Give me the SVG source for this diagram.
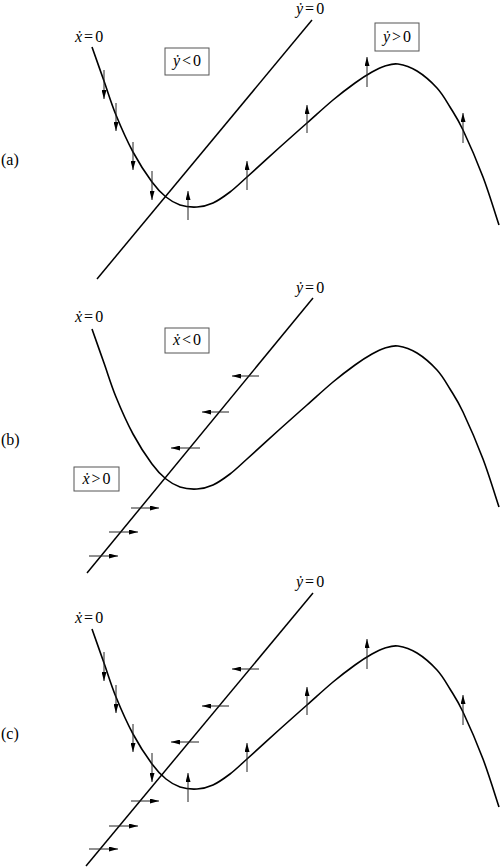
<svg xmlns="http://www.w3.org/2000/svg" xmlns:xlink="http://www.w3.org/1999/xlink" width="500" height="868" viewBox="0 0 500 868">
<style>
  .c { fill: none; stroke: #000; stroke-width: 1.6; }
  .n { fill: none; stroke: #000; stroke-width: 1.5; }
  .a { fill: none; stroke: #222; stroke-width: 1; marker-end: url(#ah); }
  .box { fill: #fff; stroke: #555; stroke-width: 1; }
  .t { font-family: "Liberation Serif", "Times New Roman", "DejaVu Serif", serif; font-size: 16px; fill: #000; }
  .i { font-style: italic; }
  .m { text-anchor: middle; }
</style>
<defs>
  <marker id="ah" markerUnits="userSpaceOnUse" viewBox="0 0 9 5" refX="9" refY="2.5" markerWidth="9" markerHeight="5" orient="auto">
    <path d="M0,0L9,2.5L0,5z" fill="#000"/>
  </marker>
  <path id="xnull" class="c" d="M92,47 C94,52.7 100,69.7 104,81 S111.2,103.2 116,115 S127,140.8 133,152 S146.5,174.5 152,182 S161.3,193.2 166,197 S174.8,203.3 180,205 S191.5,207.3 197,207 S207.5,205.5 213,203 S224.3,196.3 230,192 S238.7,184.5 247,177 S270,156 280,147 S298.2,130.8 307,123 S325,106.7 333,100 S348.5,87.7 355,83 S367,74.8 372,72 S380.7,67.3 385,66 S392.7,63.2 398,64 S410.5,67 417,71 S431.5,82 437,88 S445.7,100 450,107 S457.5,118.3 463,130 S477,161.2 483,177 S496.3,217 499,225"/>
  <g id="varrows">
    <line class="a" x1="104" y1="70" x2="104" y2="99"/>
    <line class="a" x1="116" y1="103" x2="116" y2="131"/>
    <line class="a" x1="133" y1="142" x2="133" y2="170"/>
    <line class="a" x1="152" y1="171" x2="152" y2="200"/>
    <line class="a" x1="188" y1="220" x2="188" y2="191"/>
    <line class="a" x1="247" y1="190" x2="247" y2="161"/>
    <line class="a" x1="307" y1="133" x2="307" y2="105"/>
    <line class="a" x1="367" y1="87" x2="367" y2="57"/>
    <line class="a" x1="463" y1="143" x2="463" y2="113"/>
  </g>
</defs>

<!-- Panel (a) -->
<g id="panel-a">
  <text class="t" font-family="Liberation Serif, serif" x="1" y="165">(a)</text>
  <use xlink:href="#xnull" href="#xnull"/>
  <line id="ynull-a" class="n" x1="97" y1="279" x2="312" y2="20"/>
  <g id="arrows-a"><use xlink:href="#varrows" href="#varrows"/></g>
  <text id="lbl-xdot-a" class="t" font-family="Liberation Serif, serif" x="75" y="42"><tspan class="i">ẋ</tspan><tspan dx="2">=</tspan><tspan dx="2">0</tspan></text>
  <text id="lbl-ydot-a" class="t" font-family="Liberation Serif, serif" font-size="15" x="296" y="14"><tspan class="i">ẏ</tspan><tspan dx="2">=</tspan><tspan dx="2">0</tspan></text>
  <g id="box-yneg">
    <rect class="box" x="165" y="48" width="44" height="27"/>
    <text class="t m" font-family="Liberation Serif, serif" x="187" y="66"><tspan class="i">ẏ</tspan><tspan dx="2">&lt;</tspan><tspan dx="2">0</tspan></text>
  </g>
  <g id="box-ypos">
    <rect class="box" x="375" y="23" width="44" height="28"/>
    <text class="t m" font-family="Liberation Serif, serif" x="397" y="42"><tspan class="i">ẏ</tspan><tspan dx="2">&gt;</tspan><tspan dx="2">0</tspan></text>
  </g>
</g>

<!-- Panel (b) -->
<g id="panel-b">
  <text class="t" font-family="Liberation Serif, serif" x="1" y="445">(b)</text>
  <use xlink:href="#xnull" href="#xnull" transform="translate(0,282)"/>
  <line id="ynull-b" class="n" x1="87" y1="573" x2="313" y2="298"/>
  <g id="arrows-b">
    <line class="a" x1="259" y1="376" x2="232" y2="376"/>
    <line class="a" x1="229" y1="412" x2="202" y2="412"/>
    <line class="a" x1="200" y1="448" x2="171" y2="448"/>
    <line class="a" x1="131" y1="508" x2="159" y2="508"/>
    <line class="a" x1="109" y1="532" x2="138" y2="532"/>
    <line class="a" x1="89" y1="556" x2="118" y2="556"/>
  </g>
  <text id="lbl-xdot-b" class="t" font-family="Liberation Serif, serif" x="75" y="322"><tspan class="i">ẋ</tspan><tspan dx="2">=</tspan><tspan dx="2">0</tspan></text>
  <text id="lbl-ydot-b" class="t" font-family="Liberation Serif, serif" x="296" y="293"><tspan class="i">ẏ</tspan><tspan dx="2">=</tspan><tspan dx="2">0</tspan></text>
  <g id="box-xneg">
    <rect class="box" x="165" y="328" width="44" height="25"/>
    <text class="t m" font-family="Liberation Serif, serif" x="187" y="345"><tspan class="i">ẋ</tspan><tspan dx="2">&lt;</tspan><tspan dx="2">0</tspan></text>
  </g>
  <g id="box-xpos">
    <rect class="box" x="74" y="467" width="45" height="24"/>
    <text class="t m" font-family="Liberation Serif, serif" x="96.5" y="484"><tspan class="i">ẋ</tspan><tspan dx="2">&gt;</tspan><tspan dx="2">0</tspan></text>
  </g>
</g>

<!-- Panel (c) -->
<g id="panel-c">
  <text class="t" font-family="Liberation Serif, serif" x="1" y="739">(c)</text>
  <use xlink:href="#xnull" href="#xnull" transform="translate(0,582)"/>
  <line id="ynull-c" class="n" x1="86" y1="866" x2="313" y2="593"/>
  <g id="arrows-c-v"><use xlink:href="#varrows" href="#varrows" transform="translate(0,582)"/></g>
  <g id="arrows-c-h">
    <line class="a" x1="259" y1="669" x2="232" y2="669"/>
    <line class="a" x1="229" y1="706" x2="202" y2="706"/>
    <line class="a" x1="199" y1="742" x2="171" y2="742"/>
    <line class="a" x1="131" y1="801" x2="159" y2="801"/>
    <line class="a" x1="109" y1="826" x2="138" y2="826"/>
    <line class="a" x1="89" y1="849" x2="118" y2="849"/>
  </g>
  <text id="lbl-xdot-c" class="t" font-family="Liberation Serif, serif" x="75" y="623"><tspan class="i">ẋ</tspan><tspan dx="2">=</tspan><tspan dx="2">0</tspan></text>
  <text id="lbl-ydot-c" class="t" font-family="Liberation Serif, serif" x="296" y="587"><tspan class="i">ẏ</tspan><tspan dx="2">=</tspan><tspan dx="2">0</tspan></text>
</g>
</svg>
